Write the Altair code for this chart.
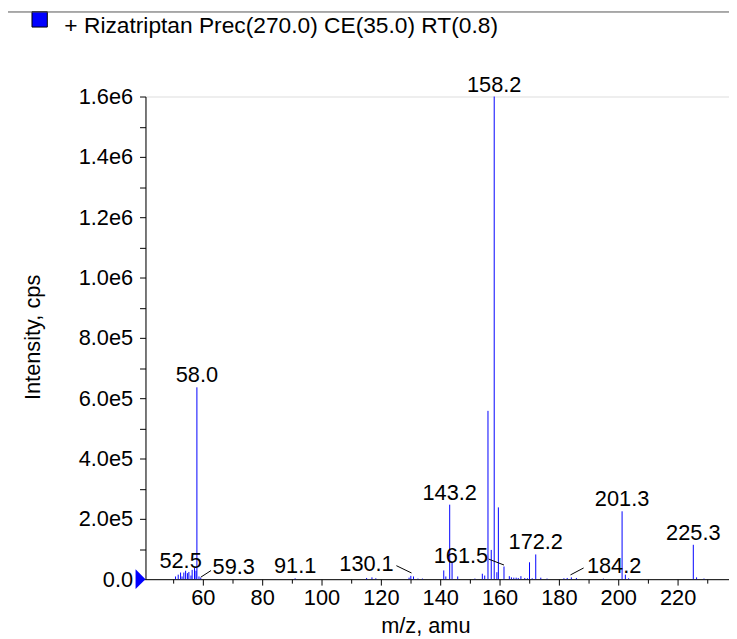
import altair as alt
import pandas as pd

SERIES_NAME = "+ Rizatriptan Prec(270.0) CE(35.0) RT(0.8)"

# m/z of every stick in the spectrum and its intensity (cps)
PEAK_MZ = [50.8, 51.7, 52.5, 53.0, 53.6, 54.2, 54.8, 55.3, 56.0, 56.4, 57.2, 57.7,
           58.0, 58.7, 59.3, 91.1, 115.2, 117.0, 118.3, 129.5, 130.1, 131.0, 132.5,
           134.0, 141.2, 141.9, 143.2, 144.0, 145.9, 151.7, 154.2, 155.0, 156.1,
           157.2, 158.2, 159.1, 159.6, 161.5, 163.3, 164.0, 164.8, 165.6, 166.3,
           167.2, 168.5, 169.4, 170.1, 171.0, 172.2, 173.9, 176.0, 181.7, 182.8,
           184.2, 185.9, 195.0, 201.3, 202.4, 203.5, 225.3, 226.4, 228.9]
PEAK_INTENSITY = [9000, 15000, 22000, 9000, 22000, 28000, 20000, 24000, 12000, 31000,
                  37000, 28000, 636000, 9000, 5000, 3000, 4000, 6000, 3000, 5000,
                  11000, 9000, 2000, 2000, 29000, 9000, 247000, 56000, 9000, 2000,
                  18000, 12000, 558000, 97000, 1600000, 23000, 238000, 42000, 10000,
                  6000, 5000, 5000, 4000, 10000, 4000, 3000, 56000, 3000, 82000, 5000,
                  2000, 3000, 4000, 6000, 4000, 2000, 225000, 15000, 3000, 114000,
                  6000, 2000]

# peaks labelled directly above the stick
LABELED_MZ = [52.5, 58.0, 91.1, 143.2, 158.2, 172.2, 201.3, 225.3]
# peaks labelled beside the stick with a leader line
LEADER_MZ = [59.3, 130.1, 161.5, 184.2]

X_TICKS = [50, 60, 70, 80, 90, 100, 110, 120, 130, 140, 150, 160, 170, 180, 190, 200,
           210, 220, 230]
X_TICK_LABELS = ["", "60", "", "80", "", "100", "", "120", "", "140", "", "160", "",
                 "180", "", "200", "", "220", ""]
Y_TICKS = [0, 100000, 200000, 300000, 400000, 500000, 600000, 700000, 800000, 900000,
           1000000, 1100000, 1200000, 1300000, 1400000, 1500000, 1600000]
Y_TICK_LABELS = ["0.0", "", "2.0e5", "", "4.0e5", "", "6.0e5", "", "8.0e5", "",
                 "1.0e6", "", "1.2e6", "", "1.4e6", "", "1.6e6"]

FONT = "Liberation Sans"
BLUE = "#0000ff"
PLOT_W, PLOT_H = 590, 488

# placement of the side labels (pixels, relative to the top of the stick)
LEADER_STYLE = {
    59.3: dict(align="left", dx=12, dy=-3.8, lx1=0, ly1=-0.5, lx2=10.4, ly2=-7.2),
    130.1: dict(align="right", dx=-17.3, dy=-5.3, lx1=0.7, ly1=-2.9, lx2=-14.6, ly2=-10.3),
    161.5: dict(align="right", dx=-16, dy=-3.2, lx1=0, ly1=-1.5, lx2=-15.5, ly2=-7.5),
    184.2: dict(align="left", dx=15.7, dy=-4.2, lx1=-0.9, ly1=-2.5, lx2=12.4, ly2=-9.5),
}


def ternary(ticks, labels):
    expr = "''"
    for t, l in reversed(list(zip(ticks, labels))):
        expr = f"datum.value == {t} ? '{l}' : ({expr})"
    return expr


peaks = pd.DataFrame({"mz": PEAK_MZ, "intensity": PEAK_INTENSITY, "base": 0,
                      "series": SERIES_NAME})
lookup = dict(zip(PEAK_MZ, PEAK_INTENSITY))


def label_frame(mzs):
    return pd.DataFrame({"mz": mzs, "intensity": [lookup[m] for m in mzs],
                         "text": [f"{m:.1f}" for m in mzs]})


x_scale = alt.Scale(domain=[40.67, 237.33], nice=False, zero=False)
y_scale = alt.Scale(domain=[0, 1600000], nice=False)

x_axis = alt.Axis(
    values=X_TICKS, labelExpr=ternary(X_TICKS, X_TICK_LABELS),
    title="m/z, amu", titleX=283, titleY=54, titleAlign="center",
    titleBaseline="alphabetic", titleFontSize=22, titleFontWeight="normal",
    titleFont=FONT, titleColor="black",
    labelFont=FONT, labelFontSize=22, labelColor="black", labelPadding=3,
    labelFlush=False, labelOverlap=False,
    tickSize={"condition": {"test": "datum.value % 20 == 0", "value": 6}, "value": 4},
    tickColor="black", domainColor="black", grid=False,
)
y_axis = alt.Axis(
    values=Y_TICKS, labelExpr=ternary(Y_TICKS, Y_TICK_LABELS),
    title="Intensity, cps", titleX=-114, titleY=243, titleAngle=270,
    titleAlign="center", titleBaseline="middle", titleFontSize=22,
    titleFontWeight="normal", titleFont=FONT, titleColor="black",
    labelFont=FONT, labelFontSize=22, labelColor="black", labelPadding=7,
    labelFlush=False, labelOverlap=False, labelBaseline="middle",
    tickSize=6, tickColor="black", domainColor="black", grid=False,
)

X = alt.X("mz:Q", scale=x_scale, axis=x_axis)
Y = alt.Y("intensity:Q", scale=y_scale, axis=y_axis)

sticks = alt.Chart(peaks).mark_rule(color=BLUE, strokeWidth=1).encode(
    x=X, y=Y, y2=alt.Y2("base:Q"))

top_labels = alt.Chart(label_frame(LABELED_MZ)).mark_text(
    align="center", baseline="alphabetic", dy=-5, font=FONT, fontSize=22,
    color="black").encode(x=X, y=Y, text="text:N")

layers = [sticks, top_labels]
for mz in LEADER_MZ:
    s = LEADER_STYLE[mz]
    df = label_frame([mz])
    layers.append(alt.Chart(df).mark_rule(
        color="black", strokeWidth=1, xOffset=s["lx1"], yOffset=s["ly1"],
        x2Offset=s["lx2"], y2Offset=s["ly2"]).encode(
        x=X, y=Y, x2=alt.X2("mz:Q"), y2=alt.Y2("intensity:Q")))
    layers.append(alt.Chart(df).mark_text(
        align=s["align"], baseline="alphabetic", dx=s["dx"], dy=s["dy"], font=FONT,
        fontSize=22, color="black").encode(x=X, y=Y, text="text:N"))

deco = pd.DataFrame({"series": [SERIES_NAME], "intensity": [0]})
# blue marker at the zero line, left of the y axis
layers.append(alt.Chart(deco).mark_point(
    shape="M-0.5,-1L0.5,0L-0.5,1Z", size=400, filled=True, color=BLUE, opacity=1,
    strokeWidth=0).encode(x=alt.value(-5), y=Y))
# legend: swatch and series name
layers.append(alt.Chart(deco).mark_square(
    size=240, fill=BLUE, stroke="black", strokeWidth=1, opacity=1).encode(
    x=alt.value(-107), y=alt.value(-78)))
layers.append(alt.Chart(deco).mark_text(
    align="left", baseline="alphabetic", font=FONT, fontSize=23, color="black").encode(
    x=alt.value(-82), y=alt.value(-64.7), text="series:N"))
# frame line along the top
layers.append(alt.Chart(deco).mark_rule(color="#555555", strokeWidth=1).encode(
    x=alt.value(-139), x2=alt.value(PLOT_W), y=alt.value(-85.5)))

chart = alt.layer(*layers).properties(
    width=PLOT_W, height=PLOT_H, autosize=alt.AutoSizeParams(type="none"),
    padding={"left": 139, "top": 86, "right": 0, "bottom": 60},
).configure_view(strokeWidth=0).configure(background="white")

chart.save("out.html", embed_options={"renderer": "svg", "actions": False})
